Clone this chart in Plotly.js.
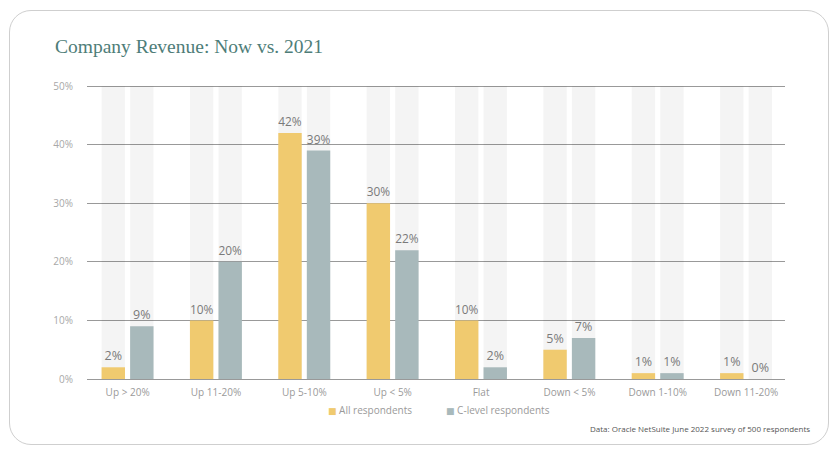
<!DOCTYPE html>
<html>
<head>
<meta charset="utf-8">
<script src="https://cdn.plot.ly/plotly-3.0.1.min.js"></script>
<style>
  html, body { margin: 0; padding: 0; background: #ffffff; }
  #wrap { position: relative; width: 840px; height: 455px; overflow: hidden; }
  #frame { position: absolute; left: 9px; top: 10px; width: 818px; height: 433px;
           border: 1.5px solid #cfcfcf; border-radius: 22px; pointer-events: none; z-index: 2; }
  #chart { position: absolute; left: 0; top: 0; width: 840px; height: 455px; }
</style>
</head>
<body>
<div id="wrap">
  <div id="chart"></div>
  <div id="frame"></div>
</div>
<script>
// ---- data ----
const categories = ["Up > 20%", "Up 11-20%", "Up 5-10%", "Up < 5%", "Flat", "Down < 5%", "Down 1-10%", "Down 11-20%"];
const allRespondents = [2, 10, 42, 30, 10, 5, 1, 1];
const cLevelRespondents = [9, 20, 39, 22, 2, 7, 1, 0];
const seriesNames = ["All respondents", "C-level respondents"];
const axisMax = 50;
const yTicks = [0, 10, 20, 30, 40, 50];
const titleText = "Company Revenue: Now vs. 2021";
const sourceText = "Data: Oracle NetSuite June 2022 survey of 500 respondents";

// ---- styling ----
const gold = "#f0ca6f";
const slate = "#a8b9bb";
const bgBar = "rgba(0,0,0,0.042)";
const barWidth = 0.265;
const offsets = [-0.295, 0.028];
const labelFont = "Open Sans, Lato, sans-serif";
const colors = [gold, slate];

const bgValues = categories.map(() => axisMax);

function bgTrace(off) {
  return {
    type: "bar", x: categories, y: bgValues, width: barWidth, offset: off,
    marker: { color: bgBar, line: { width: 0 } },
    hoverinfo: "skip", showlegend: false
  };
}
function dataTrace(vals, color, off, name) {
  return {
    type: "bar", x: categories, y: vals, width: barWidth, offset: off, name: name,
    marker: { color: color, line: { width: 0 } },
    text: vals.map(v => v + "%"), textposition: "outside", cliponaxis: false,
    textfont: { family: labelFont, size: 12.5, color: "#7a7a7a" },
    showlegend: false
  };
}

const traces = [
  bgTrace(offsets[0]), bgTrace(offsets[1]),
  dataTrace(allRespondents, gold, offsets[0], seriesNames[0]),
  dataTrace(cLevelRespondents, slate, offsets[1], seriesNames[1])
];

// legend entries (square key + label), laid out as text in container space
const legendX = [326, 444];
const legendAnnotations = seriesNames.map((n, i) => ({
  text: '<span style="color:' + colors[i] + ';font-family:DejaVu Sans;font-size:9px">■</span> ' + n,
  xref: "paper", yref: "paper",
  x: (legendX[i] - 87) / (840 - 87 - 55), xanchor: "left",
  y: -(410 - 379) / (379 - 86), yanchor: "middle",
  showarrow: false, font: { family: labelFont, size: 10, color: "#9a9a9a" }
}));

const layout = {
  width: 840, height: 455,
  margin: { l: 87, r: 55, t: 85, b: 76 },
  paper_bgcolor: "#ffffff", plot_bgcolor: "#ffffff",
  barmode: "overlay",
  showlegend: false,
  title: {
    text: titleText, xref: "container", yref: "container",
    x: 55 / 840, xanchor: "left", y: 1 - 46 / 455, yanchor: "middle",
    font: { family: "Liberation Serif, DejaVu Serif, serif", size: 19.5, color: "#4e7d78" }
  },
  xaxis: {
    type: "category", range: [-0.46, 7.44], fixedrange: true,
    showgrid: false, showline: false, zeroline: false,
    ticks: "outside", ticklen: 4, tickcolor: "rgba(0,0,0,0)",
    tickfont: { family: labelFont, size: 10, color: "#9a9a9a" }
  },
  yaxis: {
    range: [0, axisMax + 0.2], tickvals: yTicks, ticktext: yTicks.map(v => v + "%"),
    showgrid: true, gridcolor: "#999999", gridwidth: 1,
    zeroline: true, zerolinecolor: "#999999", zerolinewidth: 1,
    showline: false, ticks: "outside", ticklen: 11, tickcolor: "rgba(0,0,0,0)",
    tickfont: { family: labelFont, size: 10, color: "#a8a8a8" }
  },
  annotations: legendAnnotations.concat([{
    text: sourceText, xref: "paper", yref: "paper",
    x: (812 - 87) / (840 - 87 - 55), xanchor: "right",
    y: -(428 - 379) / (379 - 86), yanchor: "middle",
    showarrow: false, font: { family: labelFont, size: 8, color: "#555555" }
  }])
};

Plotly.newPlot("chart", traces, layout, { displayModeBar: false, staticPlot: true });
</script>
</body>
</html>
